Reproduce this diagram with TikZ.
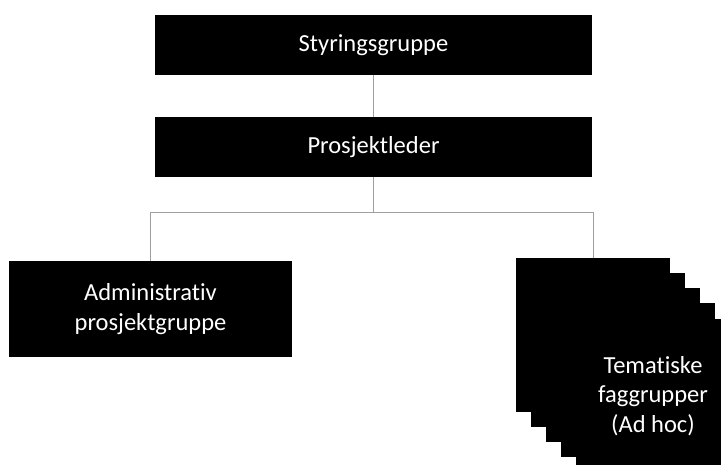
\documentclass[tikz,border=0pt]{standalone}
\usepackage{fontspec}
\setmainfont{Carlito}[Ligatures=NoCommon]
\usetikzlibrary{calc}

\tikzset{
  orgbox/.style={fill=black, text=white, inner sep=0pt, align=center,
    font=\fontsize{24.5}{29.5}\selectfont},
  fagbox/.style={orgbox, minimum width=154, minimum height=154},
  conn/.style={draw=gray!75, line width=1pt}
}

\begin{document}
\begin{tikzpicture}[x=1pt,y=-1pt]
  \useasboundingbox (0,0) rectangle (721,464);

  % Top boxes
  \node[orgbox, minimum width=437, minimum height=60] (styr) at (373.5,45) {Styringsgruppe};
  \node[orgbox, minimum width=437, minimum height=60] (pleder) at (373.5,147) {Prosjektleder};

  % Left group
  \node[orgbox, minimum width=283, minimum height=96] (admin) at (150.5,309) {Administrativ\\prosjektgruppe};

  % Stack of thematic groups
  \begin{scope}
    \clip (0,0) rectangle (721,464);
    \foreach \i in {0,...,3}
      \node[fagbox] (fag\i) at (593+15*\i,335+15*\i) {};
    \node[fagbox] (fag4) at (653,396) {Tematiske\\faggrupper\\(Ad hoc)};
  \end{scope}

  % Connectors
  \draw[conn] (styr.south) -- (pleder.north);
  \draw[conn] (pleder.south) -- ++(0,35) -| (admin.north);
  \draw[conn] (pleder.south) -- ++(0,35) -| (fag0.north);
\end{tikzpicture}
\end{document}
